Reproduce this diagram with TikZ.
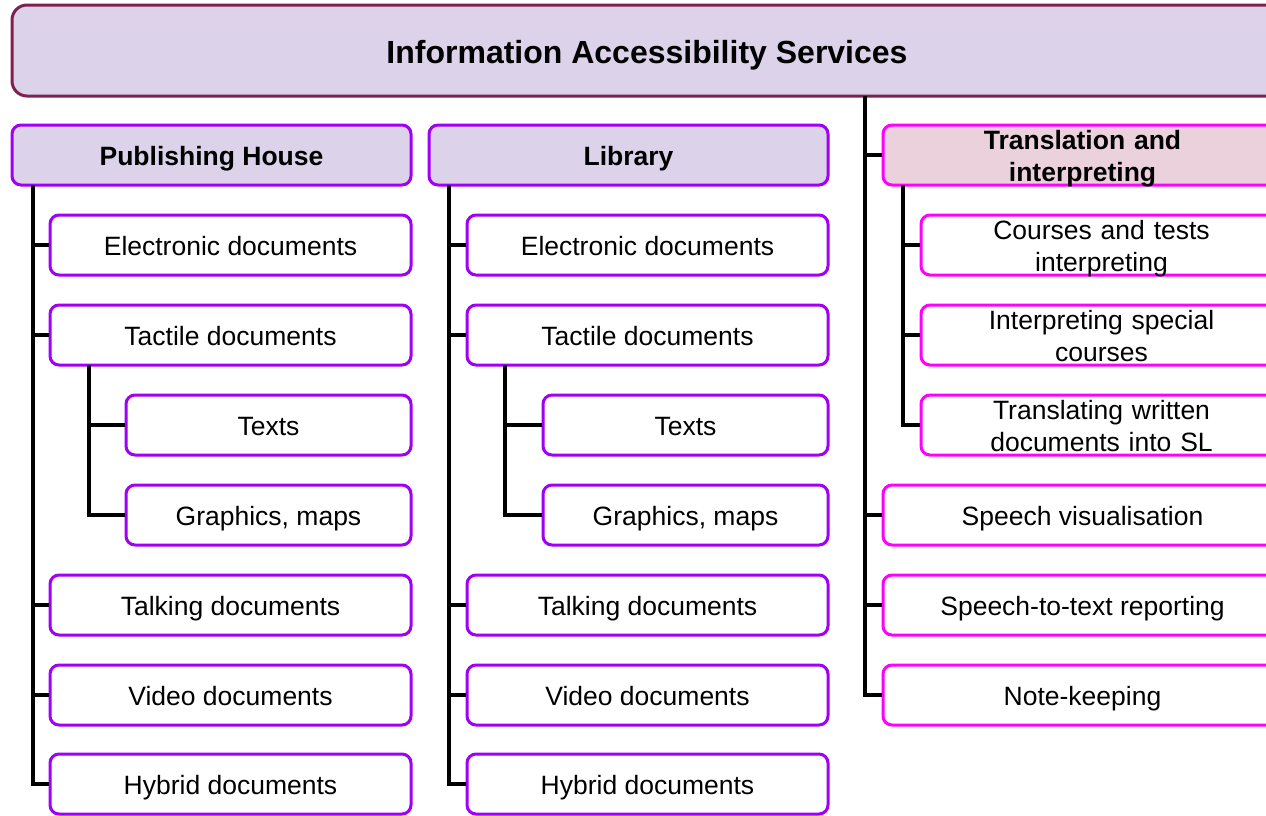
\documentclass[tikz,border=0pt]{standalone}
\usepackage{fontspec}
\setmainfont{Liberation Sans}
\definecolor{maroon}{HTML}{7D2250}
\definecolor{lav}{HTML}{DCD3EA}
\definecolor{pinkfill}{HTML}{EBD1DC}
\definecolor{purp}{HTML}{A000F5}
\definecolor{mag}{HTML}{FF00FF}
\tikzset{
  base/.style={rounded corners=9pt, line width=3pt, inner sep=0pt, align=center,
    font=\fontsize{26.5}{32}\selectfont, minimum height=60pt, text height=20pt, text depth=0pt},
  topbox/.style={base, draw=maroon, fill=lav, rounded corners=15pt, minimum width=1270pt,
    minimum height=91pt, text height=26pt, font=\fontsize{32}{38}\selectfont\bfseries},
  headA/.style={base, draw=purp, fill=lav, minimum width=399pt, font=\fontsize{26.5}{32}\selectfont\bfseries},
  headB/.style={base, draw=mag, fill=pinkfill, minimum width=399pt, text width=380pt, text depth=31pt, font=\fontsize{26.5}{32}\selectfont\bfseries},
  itemA/.style={base, draw=purp, fill=white, minimum width=361pt},
  subA/.style={base, draw=purp, fill=white, minimum width=285pt},
  itemB/.style={base, draw=mag, fill=white, minimum width=361pt, text width=340pt, text depth=31pt},
  wideB/.style={base, draw=mag, fill=white, minimum width=399pt},
  conn/.style={line width=4pt, draw=black}
}
\begin{document}
\begin{tikzpicture}[x=1pt,y=-1pt]
\useasboundingbox (0,0) rectangle (1266,815);
\clip (0,0) rectangle (1266,815);
\coordinate (pa) at (33,185);
\coordinate (pb) at (89,365);
\coordinate (la) at (449,185);
\coordinate (lb) at (505,365);
\coordinate (ta) at (865,96);
\coordinate (tb) at (903,185);
% top
\node[topbox] (title) at (647,50.5) {Information Accessibility Services};
% headers
\node[headA] (ph) at (211.5,155) {Publishing House};
\node[headA] (lib) at (628.5,155) {Library};
\node[headB] (tr) at (1082.5,155) {Translation and\\interpreting};
% publishing house
\node[itemA] (pe) at (230.5,245) {Electronic documents};
\node[itemA] (pt) at (230.5,335) {Tactile documents};
\node[subA] (ptx) at (268.5,425) {Texts};
\node[subA] (pg) at (268.5,515) {Graphics, maps};
\node[itemA] (pk) at (230.5,605) {Talking documents};
\node[itemA] (pv) at (230.5,695) {Video documents};
\node[itemA] (ph2) at (230.5,784) {Hybrid documents};
% library
\node[itemA] (le) at (647.5,245) {Electronic documents};
\node[itemA] (lt) at (647.5,335) {Tactile documents};
\node[subA] (ltx) at (685.5,425) {Texts};
\node[subA] (lg) at (685.5,515) {Graphics, maps};
\node[itemA] (lk) at (647.5,605) {Talking documents};
\node[itemA] (lv) at (647.5,695) {Video documents};
\node[itemA] (lh) at (647.5,784) {Hybrid documents};
% translation
\node[itemB] (tc) at (1101.5,245) {Courses and tests\\interpreting};
\node[itemB] (ti) at (1101.5,335) {Interpreting special\\courses};
\node[itemB] (tw) at (1101.5,425) {Translating written\\documents into SL};
\node[wideB] (sv) at (1082.5,515) {Speech visualisation};
\node[wideB] (st) at (1082.5,605) {Speech-to-text reporting};
\node[wideB] (nk) at (1082.5,695) {Note-keeping};
% connectors
\foreach \n in {pe,pt,pk,pv,ph2} \draw[conn] (pa) |- (\n.west);
\foreach \n in {ptx,pg} \draw[conn] (pb) |- (\n.west);
\foreach \n in {le,lt,lk,lv,lh} \draw[conn] (la) |- (\n.west);
\foreach \n in {ltx,lg} \draw[conn] (lb) |- (\n.west);
\foreach \n in {tr,sv,st,nk} \draw[conn] (ta) |- (\n.west);
\foreach \n in {tc,ti,tw} \draw[conn] (tb) |- (\n.west);
\end{tikzpicture}
\end{document}
